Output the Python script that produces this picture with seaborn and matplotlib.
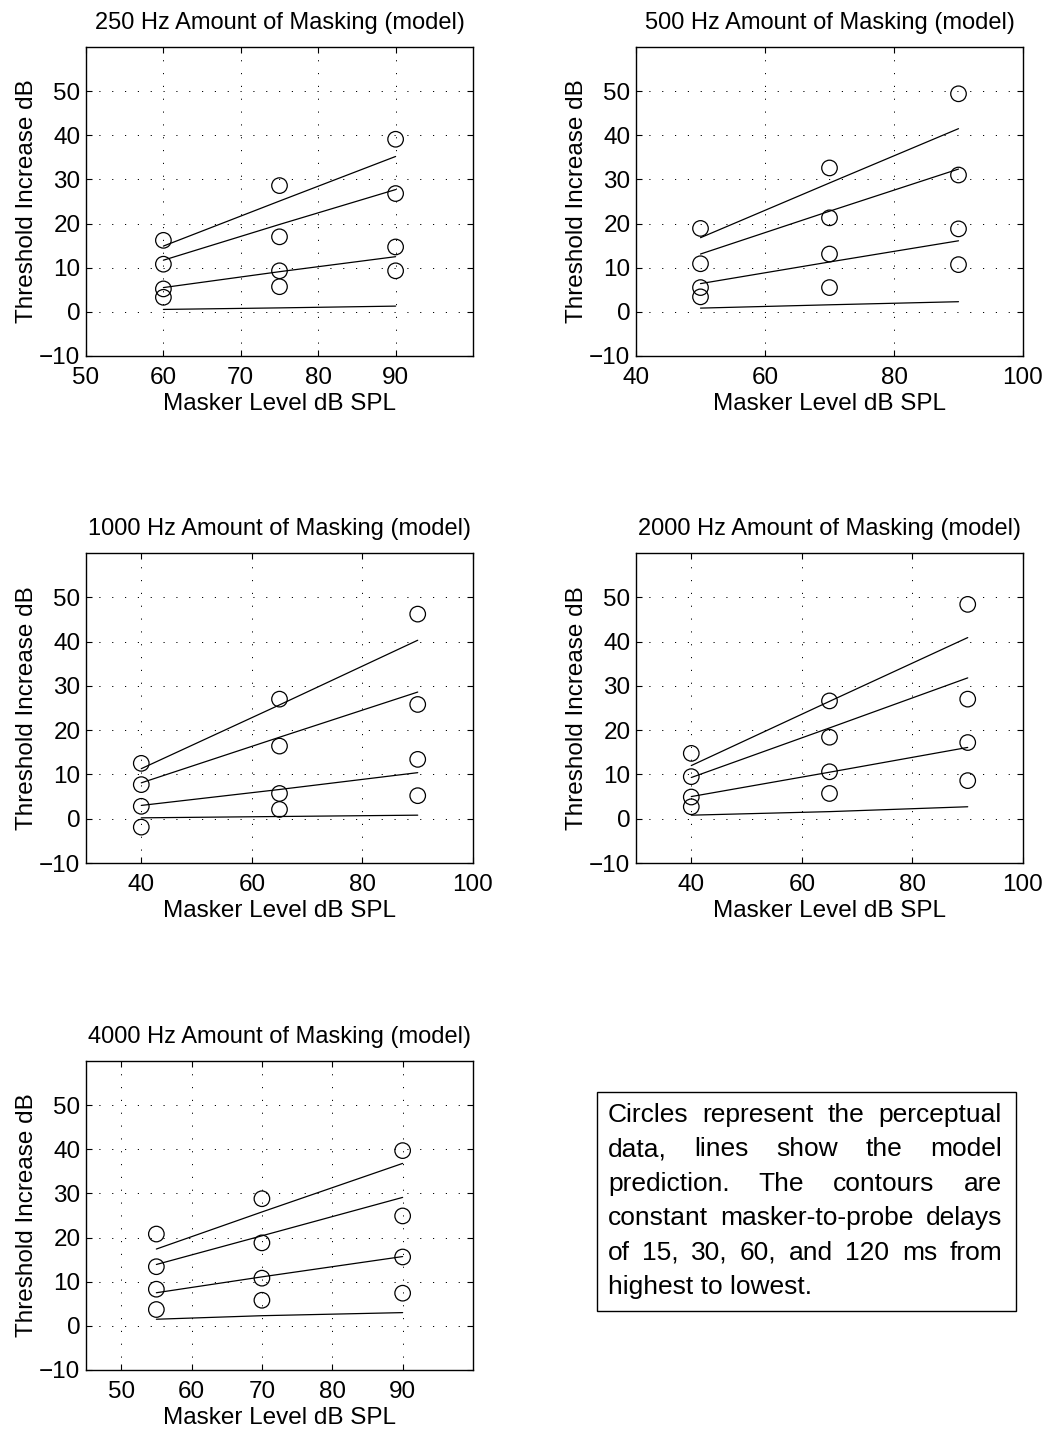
import matplotlib
matplotlib.use("Agg")
import matplotlib.pyplot as plt
from matplotlib.patches import Rectangle
import numpy as np
import pandas as pd
import seaborn as sns

# ---------------- data ----------------
delays = ["15 ms", "30 ms", "60 ms", "120 ms"]

levels_250 = [60, 75, 90]
data_250 = [[16.2, 28.6, 39.1], [10.8, 17.0, 26.8], [5.2, 9.3, 14.7], [3.3, 5.7, 9.3]]
model_250 = [[14.9, 25.1, 35.2], [11.7, 19.8, 27.7], [5.5, 9.1, 12.5], [0.55, 0.9, 1.3]]

levels_500 = [50, 70, 90]
data_500 = [[18.9, 32.6, 49.4], [10.9, 21.3, 31.0], [5.5, 13.1, 18.8], [3.4, 5.5, 10.7]]
model_500 = [[16.8, 29.2, 41.5], [13.1, 22.8, 32.35], [6.4, 11.3, 16.1], [0.85, 1.6, 2.3]]

levels_1000 = [40, 65, 90]
data_1000 = [[12.5, 27.0, 46.2], [7.7, 16.4, 25.8], [2.8, 5.7, 13.4], [-1.9, 2.1, 5.2]]
model_1000 = [[11.3, 25.7, 40.3], [8.1, 18.4, 28.6], [3.0, 6.6, 10.4], [0.2, 0.5, 0.8]]

levels_2000 = [40, 65, 90]
data_2000 = [[14.75, 26.6, 48.4], [9.5, 18.4, 27.0], [4.9, 10.6, 17.2], [2.7, 5.7, 8.6]]
model_2000 = [[12.0, 26.5, 40.9], [9.3, 20.5, 31.8], [5.0, 10.5, 16.1], [0.8, 1.6, 2.7]]

levels_4000 = [55, 70, 90]
data_4000 = [[20.8, 28.8, 39.7], [13.4, 18.8, 24.9], [8.3, 10.8, 15.6], [3.7, 5.8, 7.4]]
model_4000 = [[17.4, 25.8, 36.8], [13.9, 20.4, 29.1], [7.5, 11.1, 15.7], [1.5, 2.3, 3.0]]

panels = [
    ("250 Hz Amount of Masking (model)", levels_250, data_250, model_250, (50, 100), [50, 60, 70, 80, 90]),
    ("500 Hz Amount of Masking (model)", levels_500, data_500, model_500, (40, 100), [40, 60, 80, 100]),
    ("1000 Hz Amount of Masking (model)", levels_1000, data_1000, model_1000, (30, 100), [40, 60, 80, 100]),
    ("2000 Hz Amount of Masking (model)", levels_2000, data_2000, model_2000, (30, 100), [40, 60, 80, 100]),
    ("4000 Hz Amount of Masking (model)", levels_4000, data_4000, model_4000, (45, 100), [50, 60, 70, 80, 90]),
]
yticks = [-10, 0, 10, 20, 30, 40, 50]

note_lines = [
    "Circles represent the perceptual",
    "data, lines show the model",
    "prediction. The contours are",
    "constant masker-to-probe delays",
    "of 15, 30, 60, and 120 ms from",
    "highest to lowest.",
]

# ---------------- style ----------------
sns.set_theme(style="ticks")
plt.rcParams["font.family"] = ["Liberation Sans", "DejaVu Sans"]
plt.rcParams["axes.linewidth"] = 1.0
plt.rcParams["text.color"] = "black"
plt.rcParams["axes.labelcolor"] = "black"
plt.rcParams["xtick.color"] = "black"
plt.rcParams["ytick.color"] = "black"

W, H = 1049, 1431
fig = plt.figure(figsize=(W / 100, H / 100), dpi=100)

# pixel boxes: (left, right, top, bottom)
boxes = [
    (86, 473, 47, 356),
    (636, 1023, 47, 356),
    (86, 473, 553, 863),
    (636, 1023, 553, 863),
    (86, 473, 1061, 1370),
]

for (title, lv, dat, mod, xl, xt), (l, r, t, b) in zip(panels, boxes):
    ax = fig.add_axes([l / W, 1 - b / H, (r - l) / W, (b - t) / H])
    rows_d, rows_m = [], []
    for d, dv, mv in zip(delays, dat, mod):
        for x, yv, ym in zip(lv, dv, mv):
            rows_d.append({"x": x, "y": yv, "delay": d})
            rows_m.append({"x": x, "y": ym, "delay": d})
    df_d = pd.DataFrame(rows_d)
    df_m = pd.DataFrame(rows_m)
    sns.lineplot(data=df_m, x="x", y="y", units="delay", estimator=None,
                 color="black", linewidth=0.9, ax=ax, legend=False)
    sns.scatterplot(data=df_d, x="x", y="y", marker="o", s=125,
                    color="black", linewidth=0.9, ax=ax, legend=False, zorder=3)
    for coll in ax.collections:
        coll.set_facecolor("none")
        coll.set_edgecolor("black")
    ax.set_xlim(*xl)
    ax.set_ylim(-10, 60)
    ax.set_xticks(xt)
    ax.set_yticks(yticks)
    ax.grid(True, color="black", linestyle=(0, (1.2, 12)), linewidth=0.7)
    ax.tick_params(direction="in", length=4, width=0.8, top=True, right=True,
                   labelsize=17.5, colors="black")
    ax.tick_params(axis="y", pad=4)
    ax.tick_params(axis="x", pad=8)
    ax.set_title(title, fontsize=17, pad=13, color="black")
    ax.set_xlabel("Masker Level dB SPL", fontsize=17.5, labelpad=3)
    ax.set_ylabel("Threshold Increase dB", fontsize=17.5, labelpad=1)
    for s in ax.spines.values():
        s.set_color("black")
        s.set_linewidth(1.0)

# ---------------- note box ----------------
bl, br, bt, bb = 597, 1016, 1092, 1311
fig.add_artist(Rectangle((bl / W, 1 - bb / H), (br - bl) / W, (bb - bt) / H,
                         transform=fig.transFigure, fill=False,
                         edgecolor="black", linewidth=1.0))
fs = 19
tx_l, tx_r = 608, 1002
base0, step = 1122, 34.4
fig.canvas.draw()
renderer = fig.canvas.get_renderer()
for i, line in enumerate(note_lines):
    yb = 1 - (base0 + i * step) / H
    words = line.split()
    if i == len(note_lines) - 1:
        fig.text(tx_l / W, yb, line, fontsize=fs, va="baseline", ha="left", color="black")
        continue
    texts = [fig.text(0, yb, w_, fontsize=fs, va="baseline", ha="left", color="black")
             for w_ in words]
    widths = [t_.get_window_extent(renderer).width for t_ in texts]
    gap = (tx_r - tx_l - sum(widths)) / (len(words) - 1)
    x = tx_l
    for t_, w_ in zip(texts, widths):
        t_.set_x(x / W)
        x += w_ + gap

fig.savefig("out.png", dpi=100)
